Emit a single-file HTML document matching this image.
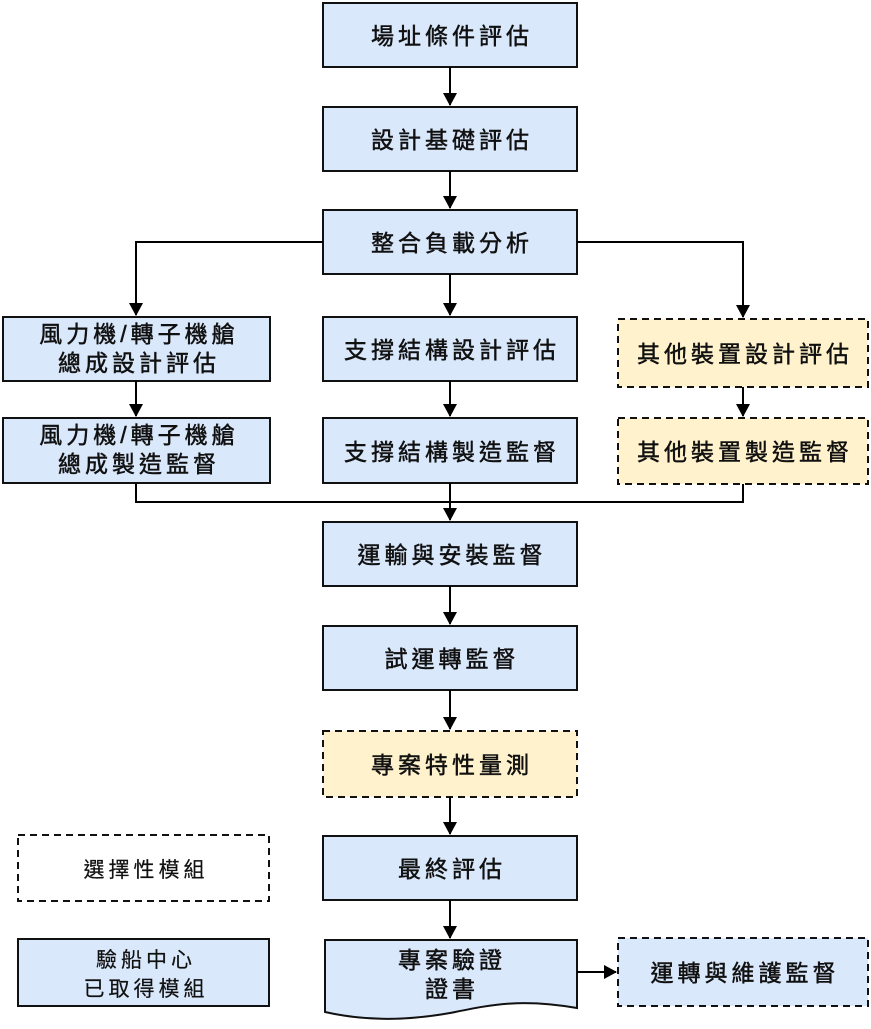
<!DOCTYPE html>
<html><head><meta charset="utf-8"><style>
body{margin:0;background:#fff}
text{font-family:"Liberation Sans","Noto Sans CJK TC",sans-serif;font-size:23px;font-weight:normal;letter-spacing:4px;fill:#111;stroke:#111;stroke-width:0.5;text-anchor:middle}
.l{font-size:21px;letter-spacing:4px;stroke-width:0.2}
</style></head><body>
<svg width="871" height="1024" viewBox="0 0 871 1024" xmlns="http://www.w3.org/2000/svg">
<defs><marker id="a" markerWidth="14" markerHeight="14" refX="12" refY="7" orient="auto" markerUnits="userSpaceOnUse"><path d="M0,0 L13,7 L0,14 Z" fill="#000"/></marker></defs>
<g fill="#dae8fc" stroke="#111" stroke-width="2">
<rect x="323" y="3" width="254" height="64"/>
<rect x="323" y="107" width="254" height="64"/>
<rect x="323" y="210" width="254" height="64"/>
<rect x="3" y="317" width="267" height="64"/>
<rect x="323" y="317" width="254" height="64"/>
<rect x="3" y="418" width="267" height="65"/>
<rect x="323" y="418" width="254" height="65"/>
<rect x="323" y="522" width="254" height="64"/>
<rect x="323" y="626" width="254" height="64"/>
<rect x="323" y="836" width="254" height="64"/>
<path d="M325,940 H577 V1008 C520,998 490,1005 450,1013 C400,1022 360,1020 325,1012 Z"/>
<rect x="18" y="939" width="251" height="67"/>
</g>
<g stroke="#111" stroke-width="2" stroke-dasharray="7,5">
<rect x="618" y="319" width="250" height="68" fill="#fff2cc"/>
<rect x="618" y="418" width="250" height="66" fill="#fff2cc"/>
<rect x="323" y="731" width="254" height="66" fill="#fff2cc"/>
<rect x="618" y="938" width="250" height="68" fill="#dae8fc"/>
<rect x="18" y="835" width="251" height="66" fill="#fff"/>
</g>
<g stroke="#000" stroke-width="2" fill="none" marker-end="url(#a)">
<path d="M450,67 V105"/>
<path d="M450,171 V208"/>
<path d="M450,274 V315"/>
<path d="M323,242 H136 V315"/>
<path d="M577,242 H743 V317"/>
<path d="M136,381 V416"/>
<path d="M450,381 V416"/>
<path d="M743,387 V416"/>
<path d="M450,483 V520"/>
<path d="M450,586 V624"/>
<path d="M450,690 V729"/>
<path d="M450,797 V834"/>
<path d="M450,900 V938"/>
<path d="M577,972 H616"/>
</g>
<g stroke="#000" stroke-width="2" fill="none">
<path d="M136,483 V502 H743 V484"/>
</g>
<g transform="translate(2,0)">
<text x="450" y="44">場址條件評估</text>
<text x="450" y="148">設計基礎評估</text>
<text x="450" y="251">整合負載分析</text>
<text x="137" y="342">風力機/轉子機艙</text>
<text x="137" y="371">總成設計評估</text>
<text x="450" y="358">支撐結構設計評估</text>
<text x="743" y="362">其他裝置設計評估</text>
<text x="137" y="443">風力機/轉子機艙</text>
<text x="137" y="472">總成製造監督</text>
<text x="450" y="460">支撐結構製造監督</text>
<text x="743" y="460">其他裝置製造監督</text>
<text x="450" y="563">運輸與安裝監督</text>
<text x="450" y="667">試運轉監督</text>
<text x="450" y="773">專案特性量測</text>
<text x="450" y="877">最終評估</text>
<text x="450" y="968">專案驗證</text>
<text x="450" y="997">證書</text>
<text x="743" y="981">運轉與維護監督</text>
<text class="l" x="144" y="877">選擇性模組</text>
<text class="l" x="144" y="967">驗船中心</text>
<text class="l" x="144" y="996">已取得模組</text>
</g>
</svg>
</body></html>
